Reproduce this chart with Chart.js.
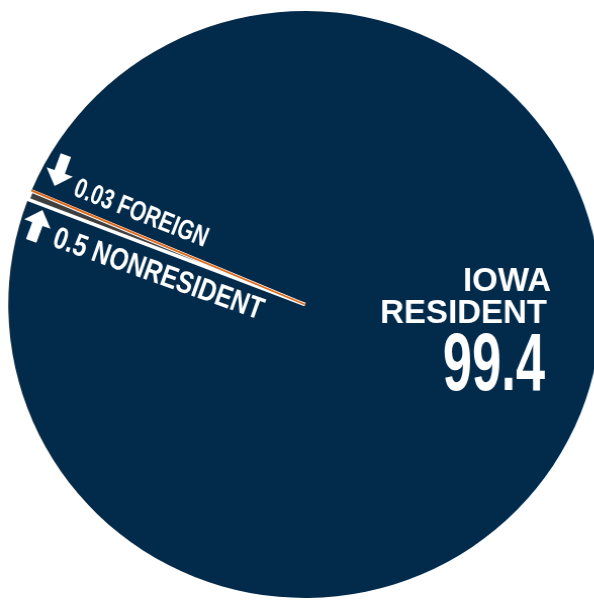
<!DOCTYPE html>
<html>
<head>
<meta charset="utf-8">
<script src="https://cdn.jsdelivr.net/npm/chart.js@4"></script>
<style>
  html, body { margin: 0; padding: 0; background: #fff; overflow: hidden; }
  /* the reference circle is a touch wider than tall */
  #pie { display: block; transform: scaleX(1.011); transform-origin: 0 0; }
</style>
</head>
<body>
<canvas id="pie" width="610" height="600"></canvas>
<script>
// Enrollment share by residency (%)
const categories = ['IOWA RESIDENT', 'NONRESIDENT', 'FOREIGN'];
const shares = [99.4, 0.5, 0.03];
const sliceColors = ['#012a4b', '#3f3f3f', '#e06a1c'];

const STRETCH = 1.011;
const FONT = '"Liberation Sans", Arial, sans-serif';

// draw a rotated label squeezed to a given length along its baseline
function slantText(ctx, text, x, y, deg, size, len) {
    ctx.save();
    ctx.translate(x, y);
    ctx.rotate(deg * Math.PI / 180);
    ctx.font = 'bold ' + size + 'px ' + FONT;
    ctx.textAlign = 'left';
    const w = ctx.measureText(text).width;
    ctx.scale(len / w, 1);
    ctx.fillText(text, 0, 0);
    ctx.restore();
}

function arrow(ctx, x, y, deg, up) {
    ctx.save();
    ctx.translate(x, y);
    ctx.rotate(deg * Math.PI / 180);
    if (up) ctx.scale(1, -1);
    ctx.beginPath();
    ctx.moveTo(-5.5, -17);
    ctx.lineTo(5.5, -17);
    ctx.lineTo(5.5, 1);
    ctx.lineTo(14, 1);
    ctx.lineTo(0, 16);
    ctx.lineTo(-14, 1);
    ctx.lineTo(-5.5, 1);
    ctx.closePath();
    ctx.fill();
    ctx.restore();
}

const labelPlugin = {
    id: 'sliceLabels',
    afterDraw(chart) {
        const ctx = chart.ctx;
        ctx.save();
        ctx.scale(1 / STRETCH, 1);
        ctx.fillStyle = '#fff';
        ctx.textBaseline = 'alphabetic';

        // big resident label
        const words = categories[0].split(' ');
        ctx.font = 'bold 33px ' + FONT;
        ctx.textAlign = 'right';
        ctx.fillText(words[0], 551, 290.5);
        ctx.fillText(words[1], 547, 322.5);

        ctx.save();
        ctx.translate(545, 390);
        ctx.scale(0.64, 1);
        ctx.font = 'bold 82px ' + FONT;
        ctx.fillText(String(shares[0]), 0, 0);
        ctx.restore();

        // the two thin slices
        slantText(ctx, shares[2] + ' ' + categories[2], 72, 195, 21.5, 28, 142);
        slantText(ctx, shares[1] + ' ' + categories[1], 51, 246, 19.5, 31, 221);
        arrow(ctx, 60, 171, 20, false);
        arrow(ctx, 37, 225, 20, true);

        ctx.restore();
    }
};

new Chart(document.getElementById('pie'), {
    type: 'pie',
    data: {
        labels: categories,
        datasets: [{
            data: shares,
            backgroundColor: sliceColors,
            borderColor: ['#ffffff', '#ffffff', '#e06a1c'],
            borderWidth: [0, 3.5, 1.6]
        }]
    },
    options: {
        responsive: false,
        animation: false,
        events: [],
        rotation: -67.1,
        radius: 293.5,
        layout: { padding: { left: 0, right: 6.6, top: 9, bottom: 0 } },
        plugins: {
            legend: { display: false },
            tooltip: { enabled: false }
        }
    },
    plugins: [labelPlugin]
});
</script>
</body>
</html>
